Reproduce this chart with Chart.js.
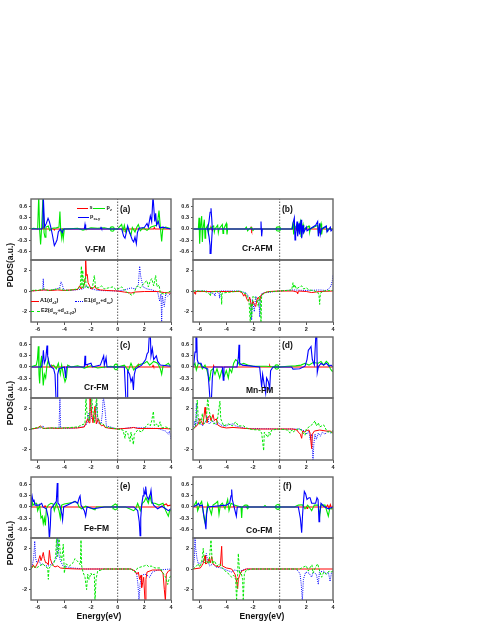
<!DOCTYPE html>
<html>
<head>
<meta charset="utf-8">
<script src="https://cdn.jsdelivr.net/npm/chart.js@4.4.1/dist/chart.umd.min.js"></script>
<style>
  html, body { margin: 0; padding: 0; background: #fff; }
  #page { position: relative; width: 485px; height: 627px; overflow: hidden; font-family: 'Liberation Sans', Arial, sans-serif; color: #111; }
  canvas { position: absolute; }
  .lbl { position: absolute; font-weight: bold; font-size: 8.5px; line-height: 1; transform: translateY(-50%); white-space: nowrap; }
  .ylab { position: absolute; font-weight: bold; font-size: 8.5px; line-height: 1; transform: translate(-50%, -50%) rotate(-90deg); white-space: nowrap; }
  .xlab { position: absolute; font-weight: bold; font-size: 8.5px; line-height: 1; transform: translate(-50%, -50%); white-space: nowrap; }
  .leg { position: absolute; font-weight: bold; font-size: 5.5px; line-height: 1; transform: translateY(-50%); white-space: nowrap; }
  .leg sub { font-size: 4px; vertical-align: -1.5px; line-height: 0; }
  .sw { position: absolute; height: 0; width: 11px; }
</style>
</head>
<body>
<div id="page"></div>
<script>
// axes
const energyMin = -6.5, energyMax = 4;
const energyTicks = [-6, -4, -2, 0, 2, 4];
const upperRange = [-0.84, 0.81];
const upperTicks = [-0.6, -0.3, 0, 0.3, 0.6];
const lowerRange = [-3, 3];
const lowerTicks = [-2, 0, 2];
const fermiLevel = 0;

// (a) V-FM  : s, pz, px+y  /  A1, E1, E2
const aS = [[-6.5,0],[-5.6,0],[-5.55,0.04],[-5.5,0],[-4.8,0],[-4.75,-0.03],[-4.7,0],[-2.5,0],[-2.45,0.03],[-2.4,0],[0.5,0],[0.55,-0.03],[0.6,0],[2.7,0],[2.75,0.04],[2.8,0],[4,0]];
const aPz = [[-6.5,0],[-6.3,0.02],[-6.0,0],[-5.92,0.9],[-5.85,-0.05],[-5.78,-0.42],[-5.7,0.05],[-5.6,0.9],[-5.52,-0.1],[-5.45,-0.22],[-5.38,0.05],[-5.2,0.08],[-5.1,-0.04],[-4.9,0.02],[-4.6,0.03],[-4.4,0.05],[-4.33,0.47],[-4.27,-0.05],[-4.2,-0.24],[-4.15,0.02],[-4.08,-0.26],[-4.0,0],[-3.0,0.02],[-2.6,-0.03],[-2.0,0.03],[-1.5,0.02],[-1.0,0.03],[-0.6,0],[-0.5,0.05],[-0.4,0.06],[-0.3,0.05],[-0.25,0],[-0.3,-0.05],[-0.4,-0.06],[-0.5,-0.05],[-0.55,0],[0,0],[0.2,0.08],[0.3,0.12],[0.4,-0.05],[0.5,0.1],[0.6,-0.08],[0.75,0.05],[0.9,-0.1],[1.0,-0.16],[1.1,0.04],[1.3,-0.08],[1.45,0.06],[1.55,0.12],[1.7,-0.05],[1.9,0.03],[2.2,-0.04],[2.5,0.05],[2.9,0.1],[3.0,0.2],[3.1,0.5],[3.2,0.05],[3.3,-0.34],[3.38,0],[3.6,0.05],[4,0]];
const aPxy = [[-6.5,0],[-5.7,0],[-5.62,0.03],[-5.58,0.9],[-5.53,0.9],[-5.48,0.05],[-5.35,0.15],[-5.22,0.29],[-5.12,0.2],[-5.0,0.02],[-4.9,-0.15],[-4.8,-0.35],[-4.75,-0.45],[-4.65,-0.38],[-4.55,-0.3],[-4.45,-0.08],[-4.3,0],[-4.15,-0.1],[-4.05,0],[-2.5,0],[-2.45,0.12],[-2.4,0],[-1.3,0],[-1.25,0.04],[-1.2,0],[0.3,0],[0.45,-0.2],[0.55,-0.25],[0.65,-0.1],[0.75,0.08],[0.85,-0.05],[1.0,-0.2],[1.1,-0.3],[1.2,-0.35],[1.3,-0.22],[1.4,-0.4],[1.48,-0.1],[1.6,0.02],[2.0,0.04],[2.2,0.15],[2.3,0.05],[2.45,0.35],[2.55,0.2],[2.65,0.9],[2.72,0.9],[2.78,0.2],[2.85,0.42],[2.92,0.1],[3.05,0.2],[3.15,0.03],[3.4,0.05],[3.7,0.02],[4,0]];
const aA1 = [[-6.5,0],[-6.0,0.05],[-5.5,0.1],[-5.0,0.05],[-4.5,0.1],[-4.0,0.05],[-3.5,0.1],[-3.0,0.15],[-2.85,0.5],[-2.75,0.2],[-2.6,0.4],[-2.5,0.6],[-2.45,1.2],[-2.4,3.1],[-2.35,1.5],[-2.28,1.6],[-2.22,0.8],[-2.1,0.5],[-2.0,0.2],[-1.8,0.3],[-1.7,0.5],[-1.6,0.2],[-1.3,0.1],[-0.8,0.05],[0,0],[0.5,-0.1],[1.0,-0.2],[1.3,-0.1],[2.0,-0.05],[3.0,-0.05],[3.5,-0.15],[4,-0.2]];
const aE1 = [[-6.5,0],[-6.0,0.05],[-5.62,0.1],[-5.58,1.2],[-5.54,0.1],[-5,0.05],[-4.35,0.3],[-4.25,0.9],[-4.15,0.6],[-4.05,0.1],[-3.5,0.05],[-2.6,0.2],[-2.3,0.5],[-2.2,0.3],[-1.5,0.05],[0,0],[0.5,0.1],[1.0,0.3],[1.3,0.2],[1.55,0.6],[1.65,2.4],[1.72,1.5],[1.8,1.0],[1.9,0.4],[2.2,0.2],[2.6,0.1],[3.0,-0.1],[3.15,-1.0],[3.25,-0.3],[3.3,-3.1],[3.35,-0.5],[3.5,-1.5],[3.6,-0.3],[3.75,-0.5],[4,-0.2]];
const aE2 = [[-6.5,0],[-6.3,0.1],[-6.0,0.05],[-5.5,0.2],[-5.2,0.05],[-4.8,0.15],[-4.3,0.2],[-4.0,0.05],[-3.5,0.1],[-3.0,0.2],[-2.8,0.5],[-2.72,2.4],[-2.68,0.3],[-2.62,2.0],[-2.55,0.3],[-2.42,1.4],[-2.35,0.3],[-2.1,0.4],[-1.9,0.3],[-1.75,1.5],[-1.65,0.3],[-1.45,0.3],[-1.2,0.5],[-1.0,0.2],[-0.7,0.3],[-0.35,0.4],[-0.1,0.1],[0.3,0.4],[0.5,0.1],[0.8,-0.2],[1.05,-0.4],[1.2,-0.3],[1.35,0.2],[1.5,0.5],[1.7,0.3],[2.0,0.8],[2.2,1.0],[2.3,0.4],[2.45,1.0],[2.55,1.2],[2.7,0.5],[2.85,1.5],[2.95,0.4],[3.1,0.6],[3.2,-0.2],[3.5,-0.3],[3.8,-0.1],[4,0]];

// (b) Cr-AFM
const bS = [[-6.5,0],[-5.2,0],[-5.15,0.04],[-5.1,0],[-5.05,-0.04],[-5.0,0],[-2.2,0],[-2.15,0.04],[-2.1,-0.04],[-2.05,0],[1.2,0],[1.25,0.04],[1.3,-0.04],[1.35,0],[2.9,0],[2.95,0.04],[3.0,-0.04],[3.05,0],[4,0]];
const bPz = [[-6.5,0],[-6.1,0],[-6.05,0.3],[-6.0,-0.4],[-5.95,0],[-5.85,0.35],[-5.8,-0.35],[-5.75,0],[-5.65,0.25],[-5.6,-0.25],[-5.55,0],[-5.4,0.1],[-5.35,-0.1],[-5.3,0],[-4.95,0.08],[-4.9,-0.08],[-4.85,0],[-4.65,0.1],[-4.6,-0.1],[-4.55,0],[-4.3,0.12],[-4.25,-0.12],[-4.2,0],[-4.0,0.15],[-3.95,-0.15],[-3.9,0],[-2.6,0],[-2.5,0.05],[-2.4,-0.05],[-2.3,0],[-2.1,0.04],[-2.0,-0.04],[-1.9,0],[-0.3,0],[-0.2,0.05],[-0.05,0.06],[0.05,0.03],[0.05,-0.03],[-0.05,-0.06],[-0.2,-0.05],[-0.3,0],[0,0],[0.9,0],[1.0,0.15],[1.05,-0.15],[1.1,0],[1.3,0.12],[1.35,-0.12],[1.4,0],[1.55,0.2],[1.6,-0.2],[1.65,0],[1.75,0.12],[1.8,-0.12],[1.85,0],[2.2,0.08],[2.25,-0.08],[2.3,0],[2.85,0.1],[2.9,-0.1],[2.95,0],[3.1,0.15],[3.15,-0.15],[3.2,0],[3.5,0.06],[3.55,-0.06],[3.6,0],[4,0]];
const bPxy = [[-6.5,0],[-5.4,0],[-5.3,0.2],[-5.22,0.45],[-5.15,0.56],[-5.1,0.3],[-5.05,0],[-5.1,-0.3],[-5.15,-0.66],[-5.22,-0.45],[-5.3,-0.2],[-5.4,0],[-5.0,0],[-1.45,0],[-1.4,0.2],[-1.35,-0.2],[-1.3,0],[0.95,0],[1.0,0.15],[1.1,0.3],[1.15,-0.3],[1.2,-0.15],[1.3,0.2],[1.35,-0.2],[1.45,0.15],[1.5,-0.15],[1.6,0.25],[1.65,-0.25],[1.75,0.1],[1.8,-0.1],[2.0,0.05],[2.05,-0.05],[2.7,0.1],[2.85,0.2],[2.9,-0.2],[3.0,0.15],[3.05,-0.15],[3.15,0],[3.5,0.08],[3.55,-0.08],[3.8,0.05],[3.85,-0.05],[4,0]];
const bA1 = [[-6.5,0],[-6.4,-0.1],[-6.35,-0.3],[-6.3,-0.05],[-5.0,-0.05],[-4.0,-0.05],[-3.0,-0.05],[-2.8,-0.2],[-2.7,-0.5],[-2.6,-0.3],[-2.45,-0.8],[-2.35,-1.0],[-2.25,-0.6],[-2.1,-1.5],[-2.0,-1.0],[-1.9,-1.3],[-1.8,-1.5],[-1.7,-0.8],[-1.6,-0.6],[-1.5,-0.9],[-1.4,-0.4],[-1.3,-0.3],[-1.1,-0.15],[-0.8,-0.05],[0,0],[1.0,0],[1.3,-0.1],[1.35,-0.25],[1.4,0],[2.0,-0.05],[2.4,-0.15],[3.0,-0.05],[4,0]];
const bE1 = [[-6.5,0],[-5.5,0],[-4.9,-0.3],[-4.85,-0.5],[-4.8,0],[-4.55,-0.2],[-4.5,-0.7],[-4.45,0],[-3.0,0],[-2.5,-0.2],[-2.2,-0.8],[-2.1,-2.8],[-2.05,-0.8],[-1.9,-2.0],[-1.8,-0.5],[-1.55,-1.0],[-1.5,-2.5],[-1.45,-0.8],[-1.3,-0.2],[0,0],[1.0,0.1],[2.0,0.05],[3.0,0.1],[3.5,0.05],[3.75,0.3],[3.85,0.5],[3.95,1.0],[4,1.6]];
const bE2 = [[-6.5,0],[-5.7,0],[-5.5,-0.1],[-5.25,-0.3],[-5.2,-0.5],[-5.15,-0.1],[-4.5,0],[-4.38,-0.3],[-4.35,-1.3],[-4.32,-0.2],[-3.0,0],[-2.5,-0.3],[-2.3,-1.0],[-2.2,-3.1],[-2.15,-1.2],[-2.1,-2.5],[-2.0,-0.5],[-1.7,-0.8],[-1.6,-1.5],[-1.5,-0.5],[-1.45,-1.0],[-1.4,-3.1],[-1.35,-0.4],[-1.0,-0.1],[0,0],[0.9,0.1],[1.0,0.8],[1.05,0.3],[1.15,0.6],[1.25,0.2],[1.5,0.4],[1.65,0.5],[1.8,0.2],[2.0,0.3],[2.2,0.1],[2.5,0.05],[2.85,-0.1],[2.95,-0.4],[3.0,-1.3],[3.05,-0.2],[3.3,0],[4,0.05]];

// (c) Cr-FM
const cS = [[-6.5,0],[-5.0,0],[-4.95,0.03],[-4.9,0],[-2.3,0],[-2.25,0.03],[-2.2,0],[1.5,0],[1.55,0.06],[1.6,0],[2.6,0],[2.65,0.04],[2.7,0],[4,0]];
const cPz = [[-6.5,0],[-6.1,0.05],[-6.02,0.2],[-5.95,0.56],[-5.9,-0.2],[-5.85,-0.45],[-5.78,0.1],[-5.7,0.3],[-5.65,-0.1],[-5.58,-0.5],[-5.5,-0.2],[-5.4,-0.3],[-5.3,0.05],[-5.2,0.2],[-5.1,0],[-4.8,0.05],[-4.6,-0.05],[-4.45,0.1],[-4.3,-0.2],[-4.2,0.05],[-4.05,-0.25],[-3.95,-0.4],[-3.85,-0.3],[-3.75,0.05],[-3.5,0],[-3,0.03],[-2.5,-0.03],[-2.0,0.03],[-1.5,-0.03],[-0.5,0.02],[-0.3,0],[-0.22,0.06],[-0.12,0.08],[-0.02,0.05],[0.02,0],[-0.02,-0.05],[-0.12,-0.08],[-0.22,-0.06],[-0.3,0],[0,0],[0.5,0.05],[0.8,-0.1],[1.0,0.1],[1.2,-0.08],[1.5,0.05],[2.0,0.1],[2.2,0.15],[2.4,0.05],[2.7,0.15],[3.0,0.1],[3.2,-0.05],[3.3,-0.2],[3.4,0.02],[3.6,0.05],[3.8,0.1],[4,0]];
const cPxy = [[-6.5,0],[-5.7,0],[-5.62,0.2],[-5.57,0.45],[-5.5,0.1],[-5.4,0.2],[-5.3,0.58],[-5.25,0.3],[-5.15,0.1],[-5.0,0],[-4.8,-0.05],[-4.7,-0.2],[-4.62,-0.9],[-4.55,-0.9],[-4.5,-0.2],[-4.4,-0.05],[-4.0,0],[-3.9,-0.3],[-3.85,0],[-2.5,0],[-2.45,0.3],[-2.4,0.05],[-2.0,0.1],[-1.9,0],[-1.3,0.05],[-1.05,0.3],[-1.0,0.05],[-0.87,0.25],[-0.8,0],[0.5,0],[0.62,-0.9],[0.7,-0.9],[0.75,-0.1],[0.9,-0.2],[1.0,-0.4],[1.1,-0.3],[1.18,-0.62],[1.25,-0.2],[1.35,-0.05],[1.8,0.05],[2.1,0.2],[2.2,0.35],[2.3,0.4],[2.38,0.9],[2.45,0.9],[2.5,0.3],[2.6,0.5],[2.7,0.2],[2.9,0.3],[3.0,0.15],[3.2,0.05],[4,0.02]];
const cA1 = [[-6.5,0],[-6.0,0.1],[-5.8,0.3],[-5.6,0.05],[-5.0,0.1],[-4.5,0.05],[-4.0,0.1],[-3.0,0.1],[-2.5,0.2],[-2.4,0.5],[-2.25,1.0],[-2.15,0.6],[-2.08,3.1],[-2.02,2.5],[-1.95,1.5],[-1.85,0.6],[-1.7,2.2],[-1.6,0.5],[-1.45,1.0],[-1.35,0.5],[-1.2,0.3],[-1.08,0.4],[-0.95,0.15],[-0.5,0.05],[0,0],[1.0,0.1],[1.2,0.15],[1.5,0.05],[2.5,0.05],[3.5,0.05],[4,0]];
const cE1 = [[-6.5,0],[-5.8,0.1],[-5.6,0.3],[-5.5,0.05],[-4.4,0.1],[-4.33,3.1],[-4.28,0.1],[-3.5,0.05],[-2.6,0.2],[-2.3,0.5],[-2.2,1.5],[-2.1,0.8],[-2.03,3.1],[-1.95,1.0],[-1.7,0.8],[-1.58,2.5],[-1.5,0.6],[-1.25,0.5],[-1.15,1.5],[-1.08,3.1],[-1.0,2.5],[-0.92,1.5],[-0.85,0.3],[0,0],[0.5,0.05],[1.0,0.15],[2.0,0.1],[3.0,0.05],[3.6,-0.2],[3.8,-0.5],[3.9,-0.2],[4,-1.0]];
const cE2 = [[-6.5,0],[-5.8,0.2],[-5.5,0.05],[-5.0,0.1],[-4.5,0.1],[-4.0,0.1],[-3.0,0.2],[-2.7,0.4],[-2.45,0.5],[-2.38,3.1],[-2.3,1.5],[-2.15,0.8],[-1.95,3.1],[-1.88,2.0],[-1.75,0.6],[-1.58,3.1],[-1.5,1.2],[-1.3,0.5],[-1.1,0.5],[-0.9,0.2],[0,0],[0.4,-0.1],[0.55,-0.9],[0.62,-0.2],[0.75,-0.4],[0.93,-1.2],[1.0,-0.3],[1.18,-1.5],[1.25,-0.5],[1.5,-0.1],[1.8,-0.3],[2.0,0.1],[2.3,0.5],[2.45,0.3],[2.55,0.8],[2.68,1.7],[2.75,0.3],[2.9,0.5],[3.05,0.2],[3.18,0.7],[3.3,0.1],[3.6,0.2],[4,0]];

// (d) Mn-FM
const dS = [[-6.5,0],[-5.0,0],[-4.95,0.03],[-4.9,0],[-0.8,0],[-0.75,0.04],[-0.7,0],[2.8,0],[2.85,0.05],[2.9,0],[4,0]];
const dPz = [[-6.5,0],[-6.35,0.1],[-6.25,-0.08],[-6.1,0.1],[-5.95,0.08],[-5.8,-0.05],[-5.6,0.05],[-5.45,-0.1],[-5.35,-0.25],[-5.25,-0.35],[-5.15,-0.1],[-5.0,-0.05],[-4.85,-0.2],[-4.7,-0.05],[-4.5,-0.3],[-4.35,-0.1],[-4.15,-0.25],[-4.0,-0.1],[-3.85,-0.3],[-3.75,-0.05],[-3.6,-0.15],[-3.45,0.1],[-3.3,0.2],[-3.15,0.15],[-3.0,0.05],[-2.7,0.1],[-2.4,0.05],[-2.0,0.02],[-1.0,0.02],[-0.4,0],[-0.3,0.05],[-0.2,0.06],[-0.1,0.04],[-0.05,0],[-0.1,-0.04],[-0.2,-0.06],[-0.3,-0.05],[-0.4,0],[0,0],[0.6,0.02],[1.2,0.03],[1.6,0.05],[1.9,0.1],[2.2,0.05],[2.5,0.12],[2.9,0.1],[3.1,0.15],[3.3,0.05],[3.5,0.15],[3.65,0.1],[3.8,-0.05],[3.95,-0.12],[4,-0.1]];
const dPxy = [[-6.5,0],[-6.45,0.05],[-6.35,0.4],[-6.28,0.9],[-6.22,0.9],[-6.18,0.2],[-6.1,0.1],[-5.9,0.1],[-5.8,0],[-5.4,-0.05],[-5.3,-0.5],[-5.22,-0.9],[-5.12,-0.9],[-5.05,-0.3],[-4.95,0],[-4.3,0],[-4.23,-0.36],[-4.18,0],[-3.2,0],[-3.1,0.25],[-3.05,0.6],[-3.0,0.1],[-2.8,0.05],[-1.5,0],[-1.35,-0.55],[-1.28,-0.2],[-1.15,-0.5],[-1.05,-0.71],[-0.98,-0.3],[-0.85,-0.4],[-0.75,-0.6],[-0.68,-0.1],[-0.5,0],[0.9,0],[1.0,-0.06],[1.5,-0.05],[1.9,0.02],[2.05,0.2],[2.15,0.45],[2.25,0.5],[2.35,0.55],[2.45,0.2],[2.6,0.05],[2.72,0.9],[2.78,0.9],[2.82,-0.15],[2.9,0],[3.1,0.1],[3.3,0.05],[3.5,0.1],[3.7,0.02],[3.85,0.05],[4,0]];
const dA1 = [[-6.5,0],[-6.3,0.2],[-6.1,0.5],[-5.98,1.0],[-5.9,0.8],[-5.75,0.4],[-5.6,2.1],[-5.55,1.5],[-5.45,0.6],[-5.35,1.2],[-5.25,1.3],[-5.15,0.8],[-5.0,1.4],[-4.9,0.8],[-4.75,1.0],[-4.65,0.4],[-4.4,0.2],[-4.0,0.1],[-3.5,0.15],[-3.0,0.1],[-2.0,0],[1.0,0],[1.3,-0.1],[1.4,-0.3],[1.55,-0.5],[1.65,-0.9],[1.72,-0.2],[1.85,-0.3],[2.0,-0.15],[2.2,-0.1],[2.28,-0.4],[2.4,-1.9],[2.45,-0.5],[2.6,-0.2],[3.0,-0.1],[3.5,-0.2],[3.8,-0.2],[4,-0.4]];
const dE1 = [[-6.5,0],[-6.4,0.4],[-6.35,0.8],[-6.3,0.2],[-6.25,2.5],[-6.18,0.5],[-6.0,0.6],[-5.8,0.3],[-5.6,0.6],[-5.4,1.2],[-5.3,0.5],[-5.0,0.8],[-4.8,0.4],[-4.6,0.6],[-4.3,0.3],[-4.0,0.3],[-3.85,0.4],[-3.5,0.5],[-3.3,0.3],[-3.0,0.2],[-2.5,0.05],[0,0],[1.5,0],[1.9,-0.2],[2.03,-0.5],[2.2,-0.2],[2.28,-1.0],[2.4,-0.5],[2.5,-3.1],[2.56,-1.5],[2.65,-0.5],[2.75,-1.0],[2.9,-0.4],[3.05,-0.7],[3.2,-0.3],[3.4,-0.5],[3.6,-0.2],[3.78,-0.4],[4,-0.2]];
const dE2 = [[-6.5,0],[-6.3,0.3],[-6.18,2.8],[-6.12,1.3],[-6.0,0.4],[-5.85,1.0],[-5.8,1.5],[-5.7,0.5],[-5.5,0.8],[-5.4,3.1],[-5.3,1.8],[-5.1,0.8],[-4.95,0.5],[-4.7,0.6],[-4.48,2.7],[-4.42,1.0],[-4.2,0.3],[-3.85,0.5],[-3.55,0.3],[-3.3,0.7],[-3.1,0.3],[-2.7,0.3],[-2.5,0.1],[-2.1,-0.05],[-1.5,-0.1],[-1.35,-0.4],[-1.2,-2.1],[-1.15,-0.3],[-1.05,-0.5],[-0.9,-0.8],[-0.8,-0.3],[-0.73,-0.6],[-0.6,-0.1],[0,0],[0.6,-0.1],[0.78,-0.4],[0.9,-0.1],[1.0,-0.3],[1.2,-0.1],[1.5,0.05],[1.9,-0.6],[2.0,0],[2.3,0.3],[2.5,0.5],[2.65,0.8],[2.75,0.3],[2.9,0.6],[3.0,0.2],[3.3,0.4],[3.5,-0.1],[3.6,-0.3],[3.8,-0.2],[3.9,-0.4],[4,-0.1]];

// (e) Fe-FM
const eS = [[-6.5,0],[-5.5,0],[-5.45,0.03],[-5.4,0],[3.3,0],[3.5,0.06],[3.65,0.08],[3.75,0.03],[4,0.05]];
const ePz = [[-6.5,0],[-6.45,0.2],[-6.35,0.05],[-6.2,0.1],[-6.08,0.1],[-6.0,-0.1],[-5.85,0.05],[-5.75,-0.3],[-5.65,-0.25],[-5.58,-0.45],[-5.5,-0.3],[-5.42,-0.5],[-5.35,-0.05],[-5.2,0.05],[-5.0,0.1],[-4.85,0.08],[-4.75,-0.1],[-4.6,0.1],[-4.4,-0.1],[-4.3,-0.3],[-4.2,0.05],[-4.0,0.08],[-3.7,0.1],[-3.4,0.12],[-3.2,0.15],[-3.0,0.1],[-2.9,0],[-2.7,-0.05],[-2.4,0.02],[-1.7,-0.08],[-1.6,0],[-0.5,0],[-0.3,0.05],[-0.18,0.08],[-0.05,0.05],[0,0],[-0.05,-0.05],[-0.18,-0.08],[-0.3,-0.05],[-0.35,0],[0,0],[0.6,0],[1.2,-0.1],[1.35,-0.05],[1.5,0.1],[1.7,-0.1],[1.85,0.1],[2.0,0.15],[2.12,0.25],[2.3,0.1],[2.43,0.3],[2.55,0.1],[2.8,0.1],[3.1,0.05],[3.4,0.1],[3.6,-0.1],[3.8,-0.25],[3.9,-0.1],[4,-0.1]];
const ePxy = [[-6.5,0],[-6.47,0.2],[-6.42,0.3],[-6.35,0.15],[-6.28,0.2],[-6.2,0.05],[-5.9,0.05],[-5.7,0.1],[-5.6,0],[-5.35,-0.05],[-5.2,-0.3],[-5.12,-0.9],[-5.05,-0.5],[-5.0,-0.05],[-4.8,0.05],[-4.6,0.15],[-4.53,0.65],[-4.48,0.1],[-4.35,0.05],[-4.18,-0.2],[-4.13,-0.35],[-4.05,0],[-3.5,0.1],[-3.2,0.15],[-3.0,0.1],[-2.88,0.25],[-2.82,0.3],[-2.75,0.05],[-2.5,-0.1],[-2.4,-0.25],[-2.3,0],[-1.8,-0.05],[-1.0,0],[1.2,0],[1.5,-0.1],[1.62,-0.4],[1.68,-0.78],[1.73,-0.3],[1.8,0.05],[1.9,0.3],[1.97,0.45],[2.05,0.35],[2.1,0.55],[2.18,0.3],[2.3,0.2],[2.45,0.35],[2.5,0.45],[2.58,0.15],[2.7,0.05],[3.0,-0.05],[3.3,0.02],[3.6,-0.05],[3.8,-0.1],[4,-0.05]];
const eA1 = [[-6.5,0],[-6.4,0.2],[-6.33,0.4],[-6.2,0.1],[-6.0,0.6],[-5.9,1.0],[-5.83,1.3],[-5.75,0.8],[-5.65,1.2],[-5.58,1.6],[-5.5,1.0],[-5.4,0.6],[-5.3,0.6],[-5.2,0.4],[-5.12,1.8],[-5.05,1.0],[-4.9,0.4],[-4.7,0.2],[-4.5,0.3],[-4.3,0.1],[-4.0,0.05],[-3.0,0],[1.0,0],[1.3,-0.2],[1.43,-0.5],[1.55,-0.3],[1.65,-1.0],[1.75,-0.6],[1.8,-1.8],[1.88,-1.3],[1.95,-0.8],[2.05,-3.1],[2.12,-1.0],[2.2,-0.3],[2.6,-0.1],[3.2,-0.1],[3.4,-0.4],[3.5,-2.0],[3.58,-3.1],[3.65,-0.5],[3.8,-0.2],[4,-0.1]];
const eE1 = [[-6.5,0],[-6.4,0.4],[-6.3,1.0],[-6.22,2.7],[-6.15,1.0],[-6.05,0.6],[-5.9,0.8],[-5.75,0.4],[-5.6,0.5],[-5.45,0.3],[-5.2,0.3],[-4.9,0.5],[-4.6,1.0],[-4.5,3.1],[-4.42,1.5],[-4.3,0.8],[-4.1,0.3],[-3.8,0.2],[-3.4,0.1],[-2.5,0],[1.0,0],[1.3,-0.2],[1.43,-0.5],[1.52,-1.5],[1.6,-3.1],[1.68,-1.5],[1.8,-0.6],[2.05,-0.5],[2.2,-0.6],[2.4,-0.8],[2.6,-0.3],[3.0,-0.1],[4,0]];
const eE2 = [[-6.5,0],[-6.35,0.3],[-6.1,0.1],[-5.85,0.3],[-5.6,0.5],[-5.4,0.2],[-5.25,0.1],[-5.2,-1.0],[-5.15,0.1],[-4.95,0.3],[-4.8,0.5],[-4.65,1.2],[-4.58,3.1],[-4.5,1.2],[-4.4,3.1],[-4.3,1.5],[-4.2,0.8],[-4.08,2.4],[-4.0,-0.4],[-3.9,0.5],[-3.6,0.3],[-3.35,0.6],[-3.2,1.0],[-3.05,0.8],[-2.9,0.6],[-2.8,0.4],[-2.75,2.8],[-2.7,0.3],[-2.6,-0.3],[-2.45,-0.8],[-2.33,-2.0],[-2.25,-0.5],[-2.15,-1.0],[-2.0,-0.4],[-1.95,-0.6],[-1.75,-0.5],[-1.7,-3.1],[-1.62,-1.0],[-1.5,-0.2],[-1.0,0],[1.0,0],[1.3,-0.3],[1.5,0.1],[1.75,0.2],[2.0,0.3],[2.18,0.4],[2.35,0.2],[2.5,0.3],[2.8,0.1],[3.2,0.1],[3.35,-0.3],[3.6,-0.8],[3.75,-1.5],[3.85,-1.0],[4,-0.6]];

// (f) Co-FM
const fS = [[-6.5,0],[-3.5,0],[-3.45,0.03],[-3.4,0],[2.0,0],[2.05,-0.04],[2.1,0],[3.5,0],[3.6,0.05],[3.7,-0.04],[3.8,0.06],[3.9,-0.04],[4,0.03]];
const fPz = [[-6.5,0],[-6.4,0.05],[-6.25,0.15],[-6.15,-0.1],[-6.0,0.05],[-5.85,0.15],[-5.75,-0.1],[-5.65,-0.35],[-5.58,-0.45],[-5.5,-0.2],[-5.4,0.1],[-5.25,-0.05],[-5.12,-0.2],[-5.0,0.05],[-4.8,0.1],[-4.65,0.15],[-4.55,-0.2],[-4.45,0.05],[-4.3,0.1],[-4.1,-0.05],[-3.9,0.2],[-3.8,-0.1],[-3.65,0.1],[-3.4,0.05],[-3.1,0.02],[-2.9,0],[-2.85,-0.3],[-2.8,0],[-2.6,0.05],[-2.45,0.05],[-2.3,0],[-2.4,-0.05],[-2.5,0],[-1.2,0],[-1.1,0.04],[-1.0,0],[-0.35,0],[-0.25,0.05],[-0.12,0.07],[0,0.04],[0.03,0],[0,-0.04],[-0.12,-0.07],[-0.25,-0.05],[-0.35,0],[0,0],[1.1,0],[1.4,0.05],[1.7,0.06],[1.9,-0.05],[2.1,0.05],[2.3,-0.05],[2.4,-0.1],[2.6,0.05],[2.9,0.05],[3.0,-0.25],[3.1,0.05],[3.4,0.05],[3.65,-0.25],[3.75,-0.05],[4,-0.05]];
const fPxy = [[-6.5,0],[-6.2,0.05],[-6.1,0.1],[-6.0,0.03],[-5.8,0.05],[-5.7,-0.2],[-5.6,-0.4],[-5.53,-0.6],[-5.48,-0.2],[-5.4,0],[-4.0,0.05],[-3.75,0.1],[-3.65,0.3],[-3.6,0.47],[-3.55,0.2],[-3.45,0.05],[-3.35,-0.1],[-3.25,-0.25],[-3.18,0],[-2.5,0],[1.4,0],[1.55,-0.3],[1.65,-0.7],[1.72,-0.2],[1.8,0.2],[1.85,0.42],[1.95,0.35],[2.05,0.2],[2.2,0.25],[2.28,0.25],[2.4,0.1],[2.7,0.1],[2.8,0.25],[2.88,0.2],[2.95,-0.4],[3.0,-0.2],[3.1,0.1],[3.3,0.02],[3.65,-0.05],[4,0]];
const fA1 = [[-6.5,0],[-6.2,0.05],[-5.95,0.1],[-5.85,0.3],[-5.75,0.5],[-5.6,1.3],[-5.55,0.5],[-5.4,0.6],[-5.3,1.0],[-5.2,0.6],[-5.1,1.2],[-5.0,0.5],[-4.8,0.3],[-4.6,0.2],[-4.45,0.3],[-4.35,2.2],[-4.3,0.3],[-4.0,0.1],[-3.6,0],[-3.45,-0.3],[-3.35,-0.5],[-3.25,-1.0],[-3.15,-1.9],[-3.1,-1.0],[-3.0,-0.6],[-2.85,-0.2],[-2.5,0],[4,0]];
const fE1 = [[-6.5,0],[-6.4,1.0],[-6.35,3.1],[-6.3,2.0],[-6.2,1.0],[-6.1,0.5],[-5.9,0.6],[-5.7,0.8],[-5.5,1.5],[-5.4,0.8],[-5.25,0.3],[-5.0,0.5],[-4.8,0.2],[-4.4,0.1],[-3.6,-0.3],[-3.4,-0.1],[-3.0,-0.2],[-2.5,0],[1.2,0],[1.4,-0.2],[1.53,-0.5],[1.62,-1.5],[1.7,-3.1],[1.78,-1.0],[1.95,-0.3],[2.2,-0.4],[2.4,-0.8],[2.5,-0.3],[2.75,-0.5],[2.9,-1.5],[2.98,-0.3],[3.3,-0.2],[3.5,-0.5],[3.65,-0.3],[3.78,-1.2],[3.88,-0.4],[4,-0.2]];
const fE2 = [[-6.5,0],[-6.3,0.2],[-6.1,0.5],[-6.0,0.2],[-5.85,0.6],[-5.73,2.0],[-5.65,0.6],[-5.5,0.8],[-5.3,0.5],[-5.15,2.8],[-5.05,0.5],[-4.9,0.8],[-4.7,0.3],[-4.5,0.5],[-4.3,0.1],[-4.0,-0.3],[-3.8,-0.5],[-3.6,-0.8],[-3.45,-0.6],[-3.3,-1.0],[-3.23,-3.1],[-3.15,-0.5],[-3.1,1.5],[-3.0,-0.5],[-2.9,-0.3],[-2.78,-1.0],[-2.73,-3.1],[-2.65,-0.5],[-2.5,-0.1],[-2.0,0],[1.5,0],[1.8,0.2],[2.0,0.3],[2.15,-0.2],[2.3,0.2],[2.42,0.4],[2.5,-0.4],[2.7,0.2],[2.85,0.5],[3.0,-0.2],[3.15,-0.8],[3.3,-0.3],[3.5,-0.5],[3.7,-0.2],[3.85,-0.3],[4,-0.2]];

const panels = [
  { tag: '(a)', name: 'V-FM',   col: 0, row: 0, s: aS, pz: aPz, pxy: aPxy, a1: aA1, e1: aE1, e2: aE2 },
  { tag: '(b)', name: 'Cr-AFM', col: 1, row: 0, s: bS, pz: bPz, pxy: bPxy, a1: bA1, e1: bE1, e2: bE2 },
  { tag: '(c)', name: 'Cr-FM',  col: 0, row: 1, s: cS, pz: cPz, pxy: cPxy, a1: cA1, e1: cE1, e2: cE2 },
  { tag: '(d)', name: 'Mn-FM',  col: 1, row: 1, s: dS, pz: dPz, pxy: dPxy, a1: dA1, e1: dE1, e2: dE2 },
  { tag: '(e)', name: 'Fe-FM',  col: 0, row: 2, s: eS, pz: ePz, pxy: ePxy, a1: eA1, e1: eE1, e2: eE2 },
  { tag: '(f)', name: 'Co-FM',  col: 1, row: 2, s: fS, pz: fPz, pxy: fPxy, a1: fA1, e1: fE1, e2: fE2 }
];

// layout (page pixels)
const colLeft = [31, 193];
const frameW = 140;
const rowTop = [199, 337, 477];
const upperH = 61, lowerH = 62;
// padT must exceed half a tick label height + tick padding, or Chart.js grows it
const axisW = 26, padR = 6, padT = 7, xAxisH = 14;

const RED = '#ff0000', GREEN = '#00e800', BLUE = '#0000ff';
const tickFont = { family: "'Liberation Sans', Arial, sans-serif", size: 5.5, weight: 'bold' };

const framePlugin = {
  id: 'frame',
  afterDraw(chart) {
    const { ctx, chartArea: a } = chart;
    ctx.save();
    ctx.strokeStyle = '#666';
    ctx.lineWidth = 1.4;
    ctx.strokeRect(a.left, a.top, a.right - a.left, a.bottom - a.top);
    ctx.restore();
  }
};

function line(data, color, width, dash) {
  return { data: data, borderColor: color, borderWidth: width, borderDash: dash || [],
           pointRadius: 0, tension: 0, fill: false };
}

function makeChart(canvas, datasets, range, ticks, isLower) {
  datasets.push(line([[fermiLevel, range[0]], [fermiLevel, range[1]]], '#333', 0.8, [1.5, 1.5]));
  return new Chart(canvas, {
    type: 'line',
    data: { datasets: datasets },
    options: {
      responsive: false,
      animation: false,
      events: [],
      layout: { padding: { left: 0, right: padR, top: padT, bottom: isLower ? 0 : padT } },
      plugins: { legend: { display: false }, tooltip: { enabled: false } },
      scales: {
        x: {
          type: 'linear', min: energyMin, max: energyMax, display: isLower,
          afterBuildTicks: s => { s.ticks = energyTicks.map(v => ({ value: v })); },
          afterFit: s => { s.height = isLower ? xAxisH : 0; },
          grid: { drawOnChartArea: false, tickLength: 3, color: '#555' },
          border: { display: false },
          ticks: { font: tickFont, color: '#222', padding: 1, maxRotation: 0, callback: v => String(v) }
        },
        y: {
          type: 'linear', min: range[0], max: range[1],
          afterBuildTicks: s => { s.ticks = ticks.map(v => ({ value: v })); },
          afterFit: s => { s.width = axisW; },
          grid: { drawOnChartArea: false, tickLength: 2, color: '#555' },
          border: { display: false },
          ticks: { font: tickFont, color: '#222', padding: 2,
                   callback: v => isLower ? String(v) : Number(v).toFixed(1) }
        }
      }
    },
    plugins: [framePlugin]
  });
}

const page = document.getElementById('page');

function addCanvas(left, top, w, h) {
  const c = document.createElement('canvas');
  c.width = w; c.height = h;
  c.style.left = left + 'px'; c.style.top = top + 'px';
  c.style.width = w + 'px'; c.style.height = h + 'px';
  page.appendChild(c);
  return c;
}

function addHtml(cls, html, x, y) {
  const d = document.createElement('div');
  d.className = cls;
  d.innerHTML = html;
  d.style.left = x + 'px';
  d.style.top = y + 'px';
  page.appendChild(d);
  return d;
}

function addSwatch(x, y, w, style, color) {
  const d = document.createElement('div');
  d.className = 'sw';
  d.style.left = x + 'px';
  d.style.top = y + 'px';
  d.style.width = w + 'px';
  d.style.borderTop = '1px ' + style + ' ' + color;
  page.appendChild(d);
}

panels.forEach(p => {
  const L = colLeft[p.col];
  const T = rowTop[p.row];
  const cUp = addCanvas(L - axisW, T - padT, frameW + axisW + padR, upperH + 2 * padT);
  makeChart(cUp, [
    line(p.pxy, BLUE, 1.1),
    line(p.pz, GREEN, 1.1),
    line(p.s, RED, 1.1)
  ], upperRange, upperTicks, false);

  const TL = T + upperH;
  const cLow = addCanvas(L - axisW, TL - padT, frameW + axisW + padR, lowerH + padT + xAxisH);
  makeChart(cLow, [
    line(p.e2, GREEN, 1.0, [2.5, 1.5]),
    line(p.a1, RED, 1.0),
    line(p.e1, BLUE, 1.0, [1, 1.2])
  ], lowerRange, lowerTicks, true);
});

// panel tags and system names
const tagPos = [[120, 208.5], [282, 208.5], [120, 344.5], [282, 344.5], [120, 486], [283, 486]];
const namePos = [[85, 248.5], [242, 248], [84, 386.5], [246, 389.5], [84, 527.5], [246, 529.5]];
panels.forEach((p, i) => {
  addHtml('lbl', p.tag, tagPos[i][0], tagPos[i][1]);
  addHtml('lbl', p.name, namePos[i][0], namePos[i][1]);
});

// axis titles
[265, 403, 543].forEach(y => addHtml('ylab', 'PDOS(a.u.)', 10, y));
addHtml('xlab', 'Energy(eV)', 99, 616);
addHtml('xlab', 'Energy(eV)', 262, 616);

// legend, panel (a) upper
addSwatch(77, 207.5, 11, 'solid', RED);
addHtml('leg', 's', 89.5, 207.5);
addSwatch(93, 207.5, 12, 'solid', GREEN);
addHtml('leg', 'p<sub>z</sub>', 106.5, 207.5);
addSwatch(78, 216.5, 11, 'solid', BLUE);
addHtml('leg', 'p<sub>x+y</sub>', 90, 217);

// legend, panel (a) lower
addSwatch(31, 301, 8, 'solid', RED);
addHtml('leg', 'A1(d<sub>z2</sub>)', 40, 301);
addSwatch(75, 301, 8, 'dotted', BLUE);
addHtml('leg', 'E1(d<sub>yz</sub>+d<sub>xz</sub>)', 84, 301);
addSwatch(31, 311, 9, 'dashed', GREEN);
addHtml('leg', 'E2(d<sub>xy</sub>+d<sub>x2-y2</sub>)', 41, 311);
</script>
</body>
</html>
